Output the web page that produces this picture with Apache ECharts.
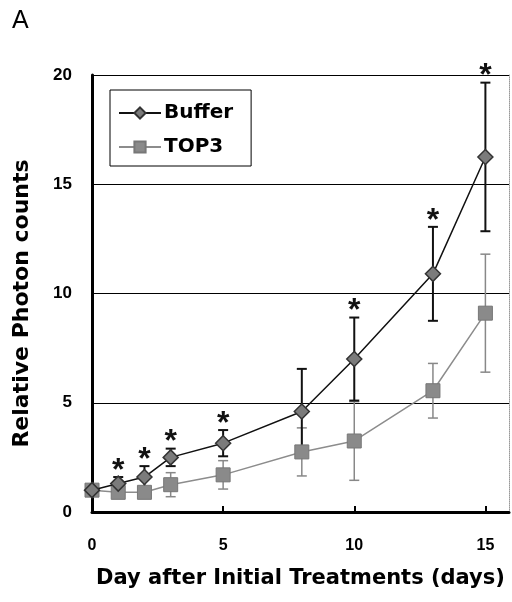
<!DOCTYPE html>
<html>
<head>
<meta charset="utf-8">
<script src="https://cdn.jsdelivr.net/npm/echarts@6/dist/echarts.min.js"></script>
<style>
html, body { margin: 0; padding: 0; background: #fff; }
#chart { width: 512px; height: 602px; }
</style>
</head>
<body>
<div id="chart"></div>
<script>
var days = [0, 1, 2, 3, 5, 8, 10, 13, 15];
var bufferMean = [1.0, 1.3, 1.6, 2.5, 3.15, 4.6, 7.0, 10.9, 16.25];
var bufferErr = [0, 0.3, 0.5, 0.4, 0.6, 1.95, 1.9, 2.15, 3.4];
var top3Mean = [1.0, 0.9, 0.9, 1.25, 1.7, 2.75, 3.25, 5.55, 9.1];
var top3Err = [0, 0.15, 0.2, 0.55, 0.65, 1.1, 1.8, 1.25, 2.7];
var starDays = [1, 2, 3, 5, 10, 13, 15];
var xLabels = [0, 5, 10, 15];
var xTickMarks = [5, 10, 15];

var font = "'Liberation Sans', Arial, sans-serif";
var wide = "'DejaVu Sans', 'Liberation Sans', sans-serif";

function pairs(mean) {
    return days.map(function(d, i) { return [d, mean[i]]; });
}

function errorBars(name, mean, err, color, width) {
    return {
        type: 'custom',
        name: name + ' error',
        silent: true,
        z: 3,
        encode: { x: 0, y: [1, 2] },
        data: days.map(function(d, i) {
            return [d, mean[i] - err[i], mean[i] + err[i]];
        }),
        renderItem: function(params, api) {
            var lo = api.coord([api.value(0), api.value(1)]);
            var hi = api.coord([api.value(0), api.value(2)]);
            var cap = 5;
            var st = { stroke: color, lineWidth: width };
            return {
                type: 'group',
                children: [
                    { type: 'line', shape: { x1: lo[0], y1: lo[1], x2: hi[0], y2: hi[1] }, style: st },
                    { type: 'line', shape: { x1: lo[0] - cap, y1: lo[1], x2: lo[0] + cap, y2: lo[1] }, style: st },
                    { type: 'line', shape: { x1: hi[0] - cap, y1: hi[1], x2: hi[0] + cap, y2: hi[1] }, style: st }
                ]
            };
        }
    };
}

var starData = starDays.map(function(d) {
    var i = days.indexOf(d);
    return [d, bufferMean[i] + bufferErr[i]];
});

var chart = echarts.init(document.getElementById('chart'));
chart.setOption({
    animation: false,
    backgroundColor: '#fff',
    textStyle: { fontFamily: font },
    title: {
        text: 'A',
        left: 7,
        top: 4,
        textStyle: { fontFamily: font, fontSize: 25, fontWeight: 'normal', color: '#000' }
    },
    grid: { left: 92, right: 3, top: 75, bottom: 90 },
    legend: {
        orient: 'vertical',
        left: 110,
        top: 90,
        padding: [13, 18, 9, 8],
        itemGap: 14,
        itemWidth: 42,
        itemHeight: 14,
        borderColor: '#000',
        borderWidth: 1,
        data: ['Buffer', 'TOP3'],
        textStyle: { fontFamily: wide, fontSize: 20, fontWeight: 'bold', color: '#000', padding: [0, 0, 0, -2] }
    },
    xAxis: {
        type: 'value',
        min: 0,
        max: 15.9,
        axisLine: { lineStyle: { color: '#000', width: 3 } },
        axisTick: { show: true, inside: true, length: 6, customValues: xTickMarks, lineStyle: { color: '#000', width: 2 } },
        axisLabel: {
            customValues: xLabels,
            margin: 26,
            fontFamily: font, fontSize: 16, fontWeight: 'bold', color: '#000'
        },
        splitLine: { show: false },
        name: 'Day after Initial Treatments (days)',
        nameLocation: 'middle',
        nameGap: 56,
        nameTextStyle: { fontFamily: wide, fontSize: 21, fontWeight: 'bold', color: '#000' }
    },
    yAxis: [{
        type: 'value',
        min: 0,
        max: 20,
        interval: 5,
        axisLine: { show: true, lineStyle: { color: '#000', width: 3 } },
        axisTick: { show: false },
        axisLabel: { margin: 20, fontFamily: font, fontSize: 17, fontWeight: 'bold', color: '#000' },
        splitLine: { show: true, lineStyle: { color: '#000', width: 1 } },
        name: 'Relative Photon counts',
        nameLocation: 'middle',
        nameGap: 59,
        nameTextStyle: { fontFamily: wide, fontSize: 22, fontWeight: 'bold', color: '#000', padding: [0, 20, 0, 0] }
    }, {
        type: 'value',
        position: 'right',
        min: 0,
        max: 20,
        axisLine: { show: true, lineStyle: { color: '#999', width: 1, type: 'dotted' } },
        axisTick: { show: false },
        axisLabel: { show: false },
        splitLine: { show: false }
    }],
    series: [
        errorBars('TOP3', top3Mean, top3Err, '#888', 1.5),
        errorBars('Buffer', bufferMean, bufferErr, '#111', 2),
        {
            name: 'TOP3',
            type: 'line',
            z: 4,
            data: pairs(top3Mean),
            symbol: 'rect',
            symbolSize: 14,
            lineStyle: { color: '#8c8c8c', width: 1.5 },
            itemStyle: { color: '#8a8a8a', borderColor: '#777', borderWidth: 1 }
        },
        {
            name: 'Buffer',
            type: 'line',
            z: 5,
            data: pairs(bufferMean),
            symbol: 'diamond',
            symbolSize: 15,
            lineStyle: { color: '#111', width: 1.5 },
            itemStyle: { color: '#7b7b7b', borderColor: '#333', borderWidth: 1.5 }
        },
        {
            type: 'custom',
            name: 'stars',
            silent: true,
            z: 6,
            encode: { x: 0, y: 1 },
            data: starData,
            renderItem: function(params, api) {
                var p = api.coord([api.value(0), api.value(1)]);
                return {
                    type: 'text',
                    style: {
                        text: '*',
                        x: p[0],
                        y: p[1] - 6,
                        align: 'center',
                        verticalAlign: 'middle',
                        font: 'bold 32px ' + font,
                        fill: '#111'
                    }
                };
            }
        }
    ]
});
</script>
</body>
</html>
